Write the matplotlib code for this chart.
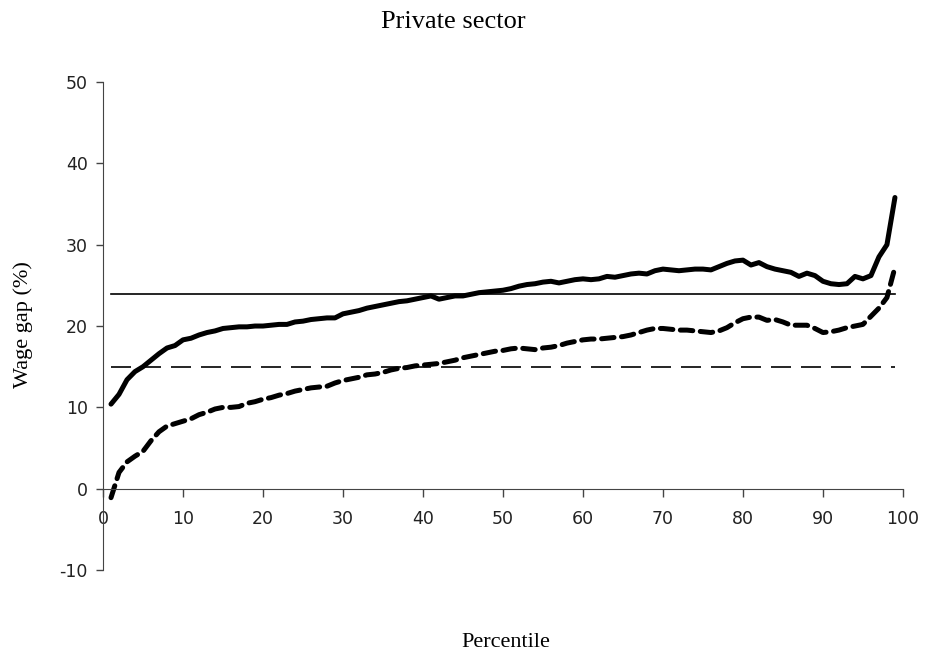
import matplotlib
matplotlib.use("Agg")
import matplotlib.pyplot as plt

plt.rcParams['font.family'] = ['Liberation Serif', 'DejaVu Serif']
plt.rcParams['axes.unicode_minus'] = False

percentile = list(range(1, 100))

gap_solid = [10.4, 11.6, 13.4, 14.4, 15.0, 15.8, 16.6, 17.3, 17.6, 18.3,
             18.5, 18.9, 19.2, 19.4, 19.7, 19.8, 19.9, 19.9, 20.0, 20.0,
             20.1, 20.2, 20.2, 20.5, 20.6, 20.8, 20.9, 21.0, 21.0, 21.5,
             21.7, 21.9, 22.2, 22.4, 22.6, 22.8, 23.0, 23.1, 23.3, 23.5,
             23.7, 23.3, 23.5, 23.7, 23.7, 23.9, 24.1, 24.2, 24.3, 24.4,
             24.6, 24.9, 25.1, 25.2, 25.4, 25.5, 25.3, 25.5, 25.7, 25.8,
             25.7, 25.8, 26.1, 26.0, 26.2, 26.4, 26.5, 26.4, 26.8, 27.0,
             26.9, 26.8, 26.9, 27.0, 27.0, 26.9, 27.3, 27.7, 28.0, 28.1,
             27.5, 27.8, 27.3, 27.0, 26.8, 26.6, 26.1, 26.5, 26.2, 25.5,
             25.2, 25.1, 25.2, 26.1, 25.8, 26.2, 28.5, 30.0, 35.8]

gap_dashed = [-1.1, 2.0, 3.3, 4.0, 4.6, 5.9, 7.0, 7.7, 8.0, 8.3,
              8.6, 9.1, 9.4, 9.8, 10.0, 10.0, 10.1, 10.5, 10.7, 11.0,
              11.2, 11.5, 11.7, 12.0, 12.2, 12.4, 12.5, 12.6, 13.0, 13.3,
              13.5, 13.7, 14.0, 14.1, 14.3, 14.6, 14.8, 14.9, 15.1, 15.2,
              15.3, 15.4, 15.6, 15.8, 16.1, 16.3, 16.5, 16.7, 16.9, 17.0,
              17.2, 17.3, 17.2, 17.1, 17.3, 17.4, 17.6, 17.9, 18.1, 18.3,
              18.4, 18.4, 18.5, 18.6, 18.7, 18.9, 19.2, 19.5, 19.7, 19.7,
              19.6, 19.5, 19.5, 19.4, 19.3, 19.2, 19.4, 19.8, 20.4, 20.9,
              21.1, 21.1, 20.7, 20.8, 20.5, 20.1, 20.1, 20.1, 19.7, 19.2,
              19.3, 19.5, 19.8, 20.0, 20.2, 21.2, 22.2, 23.5, 27.2]

mean_solid = 23.9
mean_dashed = 15.0

fig = plt.figure(figsize=(9.28, 6.56), dpi=100)
ax = fig.add_axes([0.111, 0.131, 0.862, 0.744])

ax.plot(percentile, gap_solid, color='black', lw=3.6, solid_capstyle='round')
ax.plot(percentile, gap_dashed, color='black', lw=3.6, dashes=(2.5, 1.5),
        dash_capstyle='round')
ax.plot([1, 99], [mean_solid, mean_solid], color='black', lw=1.2)
ax.plot([1, 99], [mean_dashed, mean_dashed], color='black', lw=1.2,
        dashes=(12, 6))

ax.set_xlim(0, 100)
ax.set_ylim(-10, 50)
ax.set_xticks(range(0, 101, 10))
ax.set_yticks(range(-10, 51, 10))

ax.spines['top'].set_visible(False)
ax.spines['right'].set_visible(False)
ax.spines['bottom'].set_position(('data', 0))
ax.spines['left'].set_color('#444444')
ax.spines['bottom'].set_color('#444444')
ax.tick_params(direction='out', length=5, width=1, colors='#444444',
               labelcolor='#222222', labelsize=12.5)
ax.tick_params(axis='x', length=6, pad=9)
ax.tick_params(axis='y', pad=6)
for lab in ax.get_xticklabels() + ax.get_yticklabels():
    lab.set_family('DejaVu Sans')

fig.text(0.489, 0.966, 'Private sector', ha='center', va='center', fontsize=19)
fig.text(0.545, 0.02, 'Percentile', ha='center', va='center', fontsize=16)
fig.text(0.025, 0.505, 'Wage gap (%)', ha='center', va='center', rotation=90,
         fontsize=16)

fig.savefig('out.png', dpi=100)
